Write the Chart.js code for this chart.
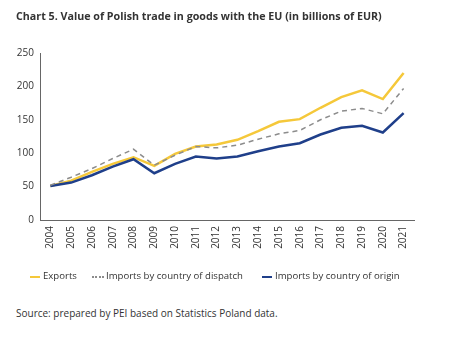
<!DOCTYPE html>
<html>
<head>
<meta charset="utf-8">
<script src="https://cdn.jsdelivr.net/npm/chart.js@4/dist/chart.umd.min.js"></script>
<style>
  body { margin: 0; background: #fff; font-family: "Open Sans", sans-serif; color: #333; }
  #wrap { position: relative; width: 472px; height: 344px; overflow: hidden; }
  #title { position: absolute; left: 16px; top: 9px; font-size: 10.7px; font-weight: 700; color: #333; white-space: nowrap; }
  #chartBox { position: absolute; left: 0; top: 0; width: 472px; height: 270px; }
  .leg { position: absolute; top: 269px; font-size: 9.6px; color: #333; white-space: nowrap; }
  .sw { position: absolute; top: 276px; height: 0; }
  #source { position: absolute; left: 16px; top: 306px; font-size: 10px; color: #333; white-space: nowrap; }
</style>
</head>
<body>
<div id="wrap">
  <div id="chartBox"><canvas id="chart" width="472" height="270"></canvas></div>
  <div id="title">Chart 5. Value of Polish trade in goods with the EU (in billions of EUR)</div>
  <div class="sw" style="left:30px;width:10px;border-top:2px solid #f5c83a;"></div>
  <div class="leg" style="left:43px;">Exports</div>
  <div class="sw" style="left:92px;width:12px;border-top:2px dotted #8c8c8c;"></div>
  <div class="leg" style="left:106px;">Imports by country of dispatch</div>
  <div class="sw" style="left:262px;width:10px;border-top:2px solid #1f3f8a;"></div>
  <div class="leg" style="left:275px;">Imports by country of origin</div>
  <div id="source">Source: prepared by PEI based on Statistics Poland data.</div>
</div>
<script>
const years = ["2004", "2005", "2006", "2007", "2008", "2009", "2010", "2011", "2012",
  "2013", "2014", "2015", "2016", "2017", "2018", "2019", "2020", "2021"];

// wartości (mld EUR)
const exportsEU = [51, 59, 72, 84, 94, 81, 99, 110, 113, 120, 133, 147, 151, 168, 184, 194, 181, 220];
const importsDispatch = [52, 64, 77, 92, 106, 82, 97, 110, 108, 112, 121, 129, 134, 150, 163, 167, 159, 197];
const importsOrigin = [51, 56, 67, 80, 91, 70, 84, 95, 92, 95, 103, 110, 115, 128, 138, 141, 131, 160];

const yTicks = [0, 50, 100, 150, 200, 250];

const ctx = document.getElementById("chart").getContext("2d");

new Chart(ctx, {
  type: "line",
  data: {
    labels: years,
    datasets: [
      {
        label: "Imports by country of dispatch",
        data: importsDispatch,
        borderColor: "#8c8c8c",
        borderWidth: 1.5,
        borderDash: [5, 4],
        pointRadius: 0,
        tension: 0,
      },
      {
        label: "Imports by country of origin",
        data: importsOrigin,
        borderColor: "#1f3f8a",
        borderWidth: 2.5,
        pointRadius: 0,
        tension: 0,
      },
      {
        label: "Exports",
        data: exportsEU,
        borderColor: "#f5c83a",
        borderWidth: 2.5,
        pointRadius: 0,
        tension: 0,
      },
    ],
  },
  options: {
    responsive: false,
    animation: false,
    layout: { padding: { top: 53, right: 58, left: 0, bottom: 10 } },
    plugins: {
      legend: { display: false },
      tooltip: { enabled: false },
    },
    scales: {
      x: {
        offset: true,
        grid: { display: false, drawTicks: false },
        border: { color: "#666", width: 1 },
        ticks: {
          minRotation: 90,
          maxRotation: 90,
          padding: 6,
          color: "#333",
          font: { family: "Open Sans", size: 10 },
        },
        afterFit: (scale) => { scale.height = 40; },
      },
      y: {
        min: 0,
        max: 250,
        grid: { display: false, drawTicks: false },
        border: { color: "#666", width: 1 },
        afterBuildTicks: (scale) => { scale.ticks = yTicks.map((v) => ({ value: v })); },
        ticks: {
          padding: 6,
          color: "#333",
          font: { family: "Open Sans", size: 10 },
        },
        afterFit: (scale) => { scale.width = 40; },
      },
    },
  },
});
</script>
</body>
</html>
